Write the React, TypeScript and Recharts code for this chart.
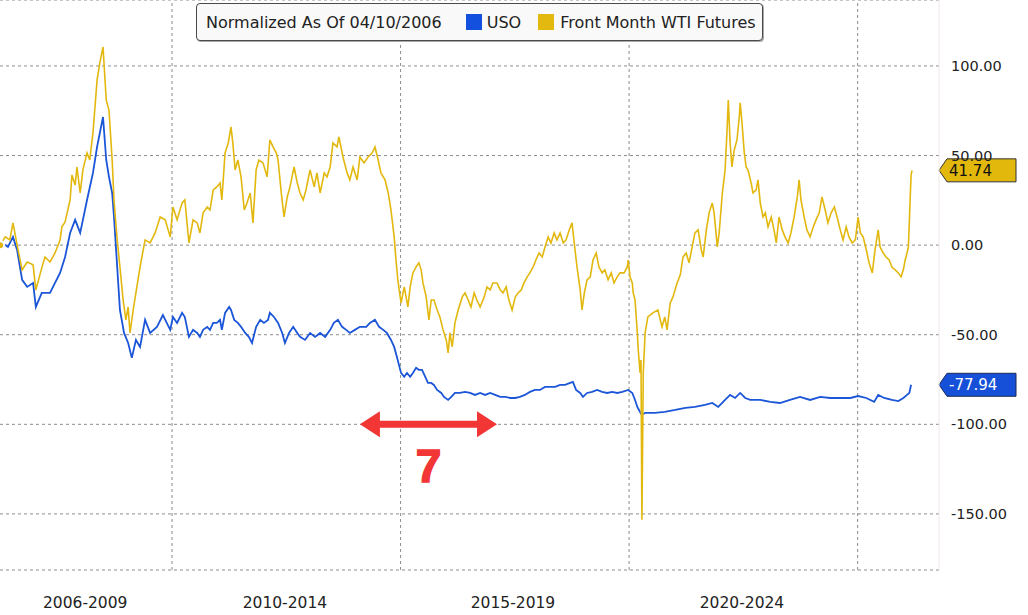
import React from 'react';
import { LineChart, Line, XAxis, YAxis, CartesianGrid, ReferenceLine } from 'recharts';

// ---- data (decimal year, % change normalized to 04/10/2006) ----
const wtiDates = [
  2006.24, 2006.35, 2006.45, 2006.52, 2006.61, 2006.72, 2006.83, 2006.96, 2007.02, 2007.15,
  2007.22, 2007.33, 2007.44, 2007.55, 2007.59, 2007.66, 2007.77, 2007.81, 2007.88, 2007.92,
  2007.99, 2008.05, 2008.14, 2008.20, 2008.27, 2008.36, 2008.42, 2008.49, 2008.56, 2008.62,
  2008.69, 2008.73, 2008.80, 2008.86, 2008.93, 2008.99, 2009.04, 2009.08, 2009.15, 2009.21,
  2009.30, 2009.41, 2009.52, 2009.63, 2009.74, 2009.85, 2009.96, 2010.02, 2010.11, 2010.22,
  2010.28, 2010.37, 2010.46, 2010.55, 2010.61, 2010.68, 2010.77, 2010.83, 2010.90, 2010.98,
  2011.05, 2011.09, 2011.16, 2011.23, 2011.29, 2011.33, 2011.38, 2011.44, 2011.51, 2011.58,
  2011.64, 2011.71, 2011.77, 2011.84, 2011.90, 2011.99, 2012.08, 2012.14, 2012.21, 2012.28,
  2012.32, 2012.39, 2012.45, 2012.52, 2012.58, 2012.67, 2012.74, 2012.80, 2012.87, 2012.93,
  2013.02, 2013.11, 2013.17, 2013.24, 2013.33, 2013.39, 2013.46, 2013.52, 2013.61, 2013.65,
  2013.74, 2013.83, 2013.89, 2013.96, 2014.05, 2014.11, 2014.20, 2014.29, 2014.38, 2014.44,
  2014.51, 2014.57, 2014.66, 2014.73, 2014.79, 2014.86, 2014.90, 2014.94, 2015.01, 2015.08,
  2015.12, 2015.16, 2015.21, 2015.27, 2015.34, 2015.40, 2015.45, 2015.49, 2015.56, 2015.62,
  2015.67, 2015.73, 2015.80, 2015.86, 2015.93, 2016.00, 2016.04, 2016.08, 2016.13, 2016.19,
  2016.26, 2016.35, 2016.41, 2016.48, 2016.54, 2016.61, 2016.67, 2016.74, 2016.83, 2016.89,
  2016.96, 2017.02, 2017.11, 2017.18, 2017.24, 2017.31, 2017.37, 2017.44, 2017.51, 2017.57,
  2017.64, 2017.70, 2017.77, 2017.83, 2017.90, 2017.96, 2018.03, 2018.10, 2018.16, 2018.23,
  2018.29, 2018.36, 2018.42, 2018.49, 2018.56, 2018.62, 2018.69, 2018.75, 2018.80, 2018.86,
  2018.93, 2018.97, 2019.02, 2019.08, 2019.15, 2019.21, 2019.28, 2019.34, 2019.41, 2019.47,
  2019.54, 2019.61, 2019.67, 2019.74, 2019.80, 2019.89, 2019.96, 2019.98, 2020.02, 2020.07,
  2020.09, 2020.13, 2020.18, 2020.20, 2020.24, 2020.26, 2020.28, 2020.31, 2020.35, 2020.41,
  2020.52, 2020.63, 2020.72, 2020.78, 2020.83, 2020.90, 2020.96, 2021.05, 2021.12, 2021.18,
  2021.25, 2021.31, 2021.38, 2021.44, 2021.51, 2021.58, 2021.62, 2021.69, 2021.75, 2021.82,
  2021.86, 2021.93, 2021.97, 2022.04, 2022.10, 2022.14, 2022.17, 2022.21, 2022.25, 2022.30,
  2022.36, 2022.41, 2022.43, 2022.47, 2022.52, 2022.56, 2022.60, 2022.67, 2022.71, 2022.78,
  2022.82, 2022.87, 2022.93, 2022.98, 2023.04, 2023.11, 2023.17, 2023.22, 2023.28, 2023.35,
  2023.41, 2023.48, 2023.54, 2023.61, 2023.68, 2023.72, 2023.76, 2023.83, 2023.89, 2023.96,
  2024.03, 2024.09, 2024.16, 2024.22, 2024.29, 2024.35, 2024.42, 2024.49, 2024.55, 2024.62,
  2024.68, 2024.75, 2024.81, 2024.88, 2024.95, 2025.01, 2025.06, 2025.12, 2025.19, 2025.25,
  2025.32, 2025.38, 2025.45, 2025.49, 2025.56, 2025.62, 2025.69, 2025.75, 2025.82, 2025.89,
  2025.95, 2026.00, 2026.04, 2026.08, 2026.11, 2026.13, 2026.15, 2026.17, 2026.19,
];
const wtiValues = [
  0, 4.6, 2.9, 12.4, 0.1, -13.8, -9.4, -11.0, -25.0, -12.7,
  -6.6, -9.4, -4.4, 2.9, 10.2, 13.0, 25.2, 39.2, 33.6, 43.6,
  29.1, 42.0, 51.5, 47.5, 62.6, 92.2, 101.7, 110.6, 81.0, 75.4,
  47.5, 25.2, 2.9, -12.2, -30.6, -41.7, -34.5, -49.0, -36.2, -26.7,
  -12.2, 2.9, 1.2, 6.8, 15.7, 14.1, 4.6, 21.3, 14.1, 23.5,
  25.2, 1.2, 14.1, 12.4, 6.8, 18.0, 21.3, 19.6, 30.8, 32.5,
  34.7, 25.2, 51.5, 57.0, 66.0, 57.0, 42.0, 47.5, 38.1, 19.6,
  23.5, 29.1, 12.4, 42.0, 47.5, 45.9, 38.1, 58.7, 54.8, 51.5,
  47.5, 29.1, 15.7, 26.9, 32.5, 43.6, 34.7, 29.1, 25.2, 30.8,
  42.0, 32.5, 40.3, 29.1, 40.3, 38.1, 43.6, 57.0, 54.8, 60.4,
  49.2, 40.3, 36.4, 43.6, 36.4, 49.2, 45.9, 49.2, 51.5, 54.8,
  47.5, 40.3, 36.4, 29.1, 19.6, 4.6, -8.3, -19.4, -32.3, -23.3,
  -28.9, -34.5, -23.3, -15.5, -12.2, -9.9, -13.8, -21.1, -28.9, -41.7,
  -30.6, -30.6, -36.2, -40.1, -47.3, -52.9, -60.2, -49.0, -56.8, -43.4,
  -36.2, -28.9, -26.7, -30.6, -34.5, -26.7, -30.6, -34.5, -28.9, -23.3,
  -25.0, -21.1, -21.1, -25.0, -26.7, -23.3, -30.6, -36.2, -28.9, -26.7,
  -25.0, -21.1, -17.7, -15.5, -12.2, -8.3, -4.4, -6.6, -1.0, 4.6,
  1.2, 6.8, 2.9, 6.8, 1.2, 2.9, 8.5, 12.4, 1.2, -12.2,
  -25.0, -36.2, -26.7, -19.4, -17.7, -8.3, -4.4, -12.2, -15.5, -13.8,
  -19.4, -15.5, -21.1, -17.7, -15.5, -15.5, -12.2, -8.3, -17.7, -21.1,
  -26.7, -30.6, -49.0, -58.5, -71.3, -64.1, -153.3, -71.3, -49.0, -40.1,
  -37.8, -36.2, -45.6, -40.1, -47.3, -32.3, -28.9, -21.1, -16.6, -6.6,
  -4.4, -9.9, -1.0, 6.8, 8.5, -2.7, -6.6, 8.5, 18.0, 23.5,
  18.0, -1.0, 6.8, 29.1, 42.0, 62.6, 81.0, 57.0, 43.6, 53.1,
  58.7, 71.5, 79.4, 68.2, 51.5, 43.6, 42.0, 34.7, 29.1, 30.8,
  36.4, 23.5, 15.7, 18.0, 10.2, 15.7, 8.5, 1.2, 15.7, 8.5,
  4.6, 1.2, 6.8, 15.7, 26.9, 36.4, 25.2, 15.7, 8.5, 4.6,
  10.2, 14.1, 18.0, 26.9, 19.6, 12.4, 18.0, 21.3, 15.7, 8.5,
  2.9, 10.2, 4.6, 1.2, 2.9, 15.7, 6.8, 4.6, -2.7, -9.9,
  -15.5, -2.7, 8.5, -1.0, -4.4, -6.6, -8.3, -12.2, -13.8, -15.5,
  -17.7, -13.8, -8.3, -4.4, -1.0, 12.4, 26.9, 39.2, 41.74,
];

const usoDates = [
  2006.24, 2006.35, 2006.41, 2006.52, 2006.61, 2006.72, 2006.83, 2006.96, 2007.02, 2007.15,
  2007.33, 2007.44, 2007.55, 2007.66, 2007.77, 2007.88, 2007.99, 2008.05, 2008.14, 2008.27,
  2008.36, 2008.42, 2008.49, 2008.56, 2008.62, 2008.69, 2008.73, 2008.80, 2008.86, 2008.95,
  2009.04, 2009.12, 2009.21, 2009.30, 2009.41, 2009.52, 2009.67, 2009.80, 2009.96, 2010.02,
  2010.11, 2010.22, 2010.28, 2010.37, 2010.46, 2010.55, 2010.61, 2010.68, 2010.77, 2010.83,
  2010.90, 2010.98, 2011.05, 2011.09, 2011.16, 2011.25, 2011.29, 2011.36, 2011.44, 2011.51,
  2011.60, 2011.68, 2011.75, 2011.84, 2011.93, 2012.01, 2012.10, 2012.14, 2012.23, 2012.32,
  2012.41, 2012.47, 2012.56, 2012.65, 2012.74, 2012.80, 2012.91, 2013.02, 2013.13, 2013.24,
  2013.35, 2013.46, 2013.54, 2013.63, 2013.72, 2013.81, 2013.89, 2014.00, 2014.11, 2014.25,
  2014.33, 2014.44, 2014.53, 2014.62, 2014.70, 2014.79, 2014.86, 2014.92, 2015.01, 2015.08,
  2015.14, 2015.21, 2015.27, 2015.34, 2015.40, 2015.47, 2015.54, 2015.60, 2015.67, 2015.73,
  2015.80, 2015.89, 2015.95, 2016.04, 2016.11, 2016.19, 2016.30, 2016.41, 2016.52, 2016.63,
  2016.74, 2016.85, 2016.96, 2017.07, 2017.18, 2017.29, 2017.40, 2017.51, 2017.61, 2017.72,
  2017.83, 2017.94, 2018.05, 2018.16, 2018.27, 2018.38, 2018.49, 2018.60, 2018.71, 2018.77,
  2018.84, 2018.93, 2018.99, 2019.08, 2019.19, 2019.30, 2019.41, 2019.52, 2019.63, 2019.74,
  2019.85, 2019.98, 2020.07, 2020.13, 2020.18, 2020.24, 2020.28, 2020.35, 2020.56, 2020.78,
  2021.01, 2021.23, 2021.44, 2021.66, 2021.82, 2021.95, 2022.10, 2022.21, 2022.32, 2022.43,
  2022.54, 2022.65, 2022.87, 2023.09, 2023.30, 2023.52, 2023.74, 2023.96, 2024.18, 2024.40,
  2024.62, 2024.84, 2025.01, 2025.19, 2025.36, 2025.45, 2025.58, 2025.75, 2025.89, 2026.00,
  2026.08, 2026.13, 2026.17,
];
const usoValues = [
  0, 0.1, -1.0, 4.6, -2.7, -19.4, -23.3, -21.1, -34.5, -26.7,
  -26.7, -21.1, -15.5, -6.6, 6.8, 14.1, 6.8, 14.1, 25.2, 40.3,
  54.8, 62.6, 71.5, 47.5, 38.1, 29.1, 15.7, -12.2, -36.2, -49.0,
  -54.6, -62.9, -52.9, -56.8, -41.7, -49.0, -45.6, -39.0, -47.3, -40.1,
  -43.4, -37.8, -40.1, -51.2, -47.3, -49.0, -51.2, -47.3, -45.6, -47.3,
  -43.4, -43.4, -41.7, -47.3, -37.8, -34.5, -36.2, -41.7, -43.4, -45.6,
  -49.0, -51.2, -54.6, -45.6, -41.7, -43.4, -41.7, -37.8, -40.1, -43.4,
  -49.0, -54.6, -49.0, -45.6, -49.0, -51.2, -52.9, -49.0, -51.2, -49.0,
  -51.2, -47.3, -43.4, -41.7, -45.6, -47.3, -49.0, -47.3, -45.6, -45.6,
  -43.4, -41.7, -45.6, -47.3, -49.0, -52.9, -56.8, -62.4, -71.3, -73.5,
  -71.3, -73.5, -71.3, -68.5, -69.6, -69.6, -73.5, -76.9, -76.9, -78.0,
  -80.8, -82.5, -84.7, -86.4, -84.7, -82.5, -82.5, -81.9, -82.5, -83.6,
  -82.5, -83.6, -82.5, -83.6, -84.7, -84.7, -85.3, -85.3, -84.7, -83.6,
  -81.9, -80.8, -80.8, -79.1, -79.1, -79.1, -78.0, -78.0, -76.9, -76.3,
  -80.8, -82.5, -84.7, -82.5, -81.9, -80.8, -81.9, -82.5, -81.9, -82.5,
  -81.9, -80.8, -82.5, -86.4, -90.3, -93.1, -94.8, -93.6, -93.6, -93.1,
  -92.0, -90.8, -90.3, -89.2, -88.1, -90.3, -86.4, -83.6, -85.3, -82.5,
  -85.3, -86.4, -86.4, -87.5, -88.1, -86.4, -84.7, -86.4, -84.7, -85.3,
  -85.3, -85.3, -84.2, -85.3, -87.5, -83.6, -85.3, -86.4, -87.0, -85.3,
  -83.6, -82.5, -77.94,
];

const yTicks = [-150, -100, -50, 0, 50, 100];
const periodTicks = [2008.1, 2012.47, 2017.46, 2022.47];
const periodLabels = ['2006-2009', '2010-2014', '2015-2019', '2020-2024'];
const periodBreaks = [2010, 2015, 2020, 2025];
const legendTitle = 'Normalized As Of 04/10/2006';
const seriesNames = ['USO', 'Front Month WTI Futures'];
const arrowSpan = [2014.11, 2017.11];
const arrowLevel = -100;
const arrowLabel = '7';

const BLUE = '#1b55d8';
const YELLOW = '#e3b80e';
const RED = '#f23535';
const FONT = 'DejaVu Sans, Verdana, sans-serif';

const wtiData = wtiDates.map((t, i) => ({ t, v: wtiValues[i] }));
const usoData = usoDates.map((t, i) => ({ t, v: usoValues[i] }));
const lastWti = wtiValues[wtiValues.length - 1];
const lastUso = usoValues[usoValues.length - 1];

function makeTag(fill: string, stroke: string, textColor: string, label: string) {
  return (props: any) => {
    const x = Math.max(props.x1, props.x2);
    const y = props.y1;
    const h = 11.5;
    const pts = `${x},${y} ${x + 8},${y - h} ${x + 77},${y - h} ${x + 77},${y + h} ${x + 8},${y + h}`;
    return (
      <g>
        <polygon points={pts} fill={fill} stroke={stroke} strokeWidth={1} />
        <text x={x + 10} y={y + 5.5} fontSize={15} fill={textColor} fontFamily={FONT}>
          {label}
        </text>
      </g>
    );
  };
}

const ArrowShape = (props: any) => {
  const xa = Math.min(props.x1, props.x2);
  const xb = Math.max(props.x1, props.x2);
  const y = props.y1;
  const hl = 20;
  const hh = 13;
  const sh = 3.5;
  const pts = [
    [xa, y], [xa + hl, y - hh], [xa + hl, y - sh], [xb - hl, y - sh], [xb - hl, y - hh],
    [xb, y], [xb - hl, y + hh], [xb - hl, y + sh], [xa + hl, y + sh], [xa + hl, y + hh],
  ].map((p) => p.join(',')).join(' ');
  return (
    <g>
      <polygon points={pts} fill={RED} />
      <text
        x={(xa + xb) / 2}
        y={y + 58}
        textAnchor="middle"
        fontSize={46}
        fontWeight={900}
        fill={RED}
        stroke={RED}
        strokeWidth={1.5}
        fontFamily="Liberation Sans, Arial, sans-serif"
      >
        {arrowLabel}
      </text>
    </g>
  );
};

const Legend = () => (
  <div
    style={{
      position: 'absolute',
      left: 196,
      top: 3,
      height: 36,
      display: 'flex',
      alignItems: 'center',
      padding: '0 6px 0 9px',
      border: '1px solid #4a4a4a',
      borderRadius: 4,
      background: '#f9f9f9',
      boxShadow: '1px 1px 0 #aaa',
      fontFamily: FONT,
      fontSize: 16,
      color: '#222',
      whiteSpace: 'nowrap',
      zIndex: 2,
    }}
  >
    <span>{legendTitle}</span>
    <span style={{ display: 'inline-block', width: 16, height: 16, background: '#1450de', marginLeft: 24 }} />
    <span style={{ marginLeft: 5 }}>{seriesNames[0]}</span>
    <span style={{ display: 'inline-block', width: 16, height: 16, background: '#e4b90f', marginLeft: 17 }} />
    <span style={{ marginLeft: 6 }}>{seriesNames[1]}</span>
  </div>
);

export default function App() {
  return (
    <div style={{ position: 'absolute', left: 0, top: 0, width: 1028, height: 615, background: '#fff' }}>
      <LineChart width={1028} height={615} margin={{ top: 0, right: 0, bottom: 0, left: 0 }}>
        <CartesianGrid vertical={false} stroke="#8c8c8c" strokeDasharray="3 3" />
        <XAxis
          type="number"
          dataKey="t"
          domain={[2006.236, 2026.78]}
          allowDataOverflow
          ticks={periodTicks}
          tickFormatter={(_v: number, i: number) => periodLabels[i]}
          axisLine={false}
          tickLine={false}
          tickSize={0}
          tickMargin={27}
          height={45}
          tick={{ fill: '#222', fontSize: 15.5, fontFamily: FONT }}
        />
        <YAxis
          orientation="right"
          type="number"
          domain={[-181.3, 136.8]}
          allowDataOverflow
          ticks={yTicks}
          tickFormatter={(v: number) => v.toFixed(2)}
          width={89}
          axisLine={{ stroke: '#efe8e5' }}
          tickLine={false}
          tickSize={0}
          tickMargin={12}
          tick={{ fill: '#222', fontSize: 14.5, fontFamily: FONT }}
        />
        {periodBreaks.map((b) => (
          <ReferenceLine key={b} x={b} stroke="#8c8c8c" strokeDasharray="3 3" />
        ))}
        <Line
          data={usoData}
          dataKey="v"
          type="linear"
          stroke={BLUE}
          strokeWidth={1.8}
          dot={false}
          isAnimationActive={false}
        />
        <Line
          data={wtiData}
          dataKey="v"
          type="linear"
          stroke={YELLOW}
          strokeWidth={1.6}
          dot={false}
          isAnimationActive={false}
        />
        <ReferenceLine
          segment={[{ x: arrowSpan[0], y: arrowLevel }, { x: arrowSpan[1], y: arrowLevel }]}
          ifOverflow="visible"
          shape={ArrowShape}
        />
        <ReferenceLine y={lastWti} ifOverflow="visible" shape={makeTag('#e2b80c', '#333', '#111', lastWti.toFixed(2))} />
        <ReferenceLine y={lastUso} ifOverflow="visible" shape={makeTag('#1650d8', '#1a2a55', '#fff', lastUso.toFixed(2))} />
      </LineChart>
      <Legend />
    </div>
  );
}
